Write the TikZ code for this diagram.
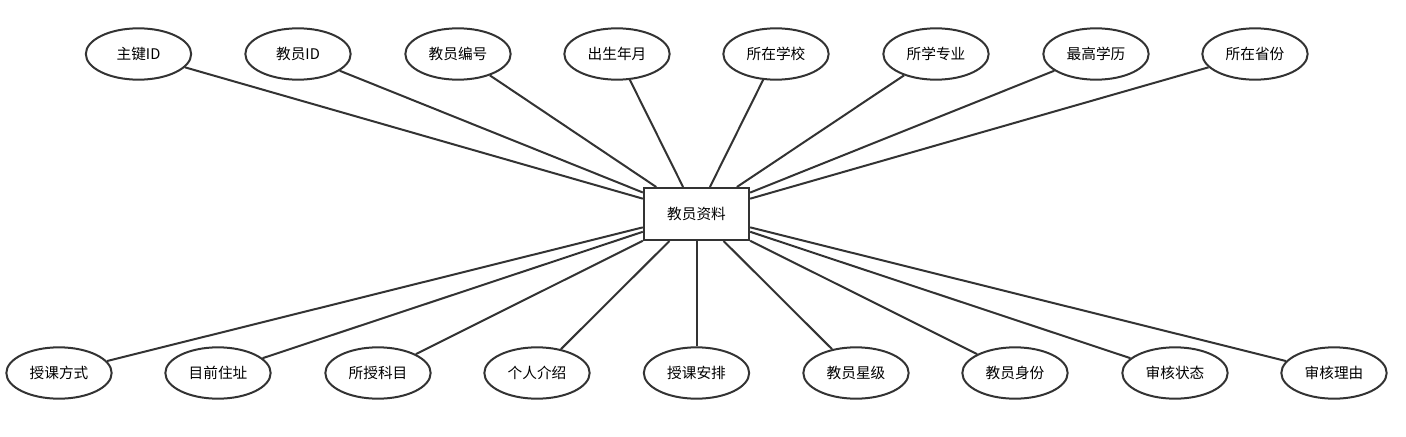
\documentclass[tikz,border=0pt]{standalone}
\usepackage{fontspec}
\setmainfont{Noto Sans CJK SC}
\usetikzlibrary{shapes.geometric}
\definecolor{ln}{HTML}{333333}
\begin{document}
\begin{tikzpicture}[x=0.75pt,y=-0.75pt,
  attr/.style={ellipse,draw=ln,line width=1.5pt,minimum width=79pt,minimum height=38.5pt,inner sep=0pt,font=\fontsize{11}{13}\selectfont},
  ent/.style={rectangle,draw=ln,line width=1.5pt,minimum width=79pt,minimum height=39pt,inner sep=0pt,font=\fontsize{11}{13}\selectfont},
  conn/.style={draw=ln,line width=1.5pt}]
\useasboundingbox (0,0) rectangle (1406,436);
\node[ent] (e) at (696.5,214) {教员资料};
\node[attr] (t1) at (138.5,54) {主键ID};
\node[attr] (t2) at (298,54) {教员ID};
\node[attr] (t3) at (458,54) {教员编号};
\node[attr] (t4) at (617,54) {出生年月};
\node[attr] (t5) at (776,54) {所在学校};
\node[attr] (t6) at (936,54) {所学专业};
\node[attr] (t7) at (1096,54) {最高学历};
\node[attr] (t8) at (1255,54) {所在省份};
\node[attr] (b1) at (59,373) {授课方式};
\node[attr] (b2) at (218,373) {目前住址};
\node[attr] (b3) at (378,373) {所授科目};
\node[attr] (b4) at (537,373) {个人介绍};
\node[attr] (b5) at (696.5,373) {授课安排};
\node[attr] (b6) at (856,373) {教员星级};
\node[attr] (b7) at (1015,373) {教员身份};
\node[attr] (b8) at (1175,373) {审核状态};
\node[attr] (b9) at (1334,373) {审核理由};
\foreach \n in {t1,t2,t3,t4,t5,t6,t7,t8,b1,b2,b3,b4,b5,b6,b7,b8,b9}
  \draw[conn] (\n) -- (e);
\end{tikzpicture}
\end{document}
